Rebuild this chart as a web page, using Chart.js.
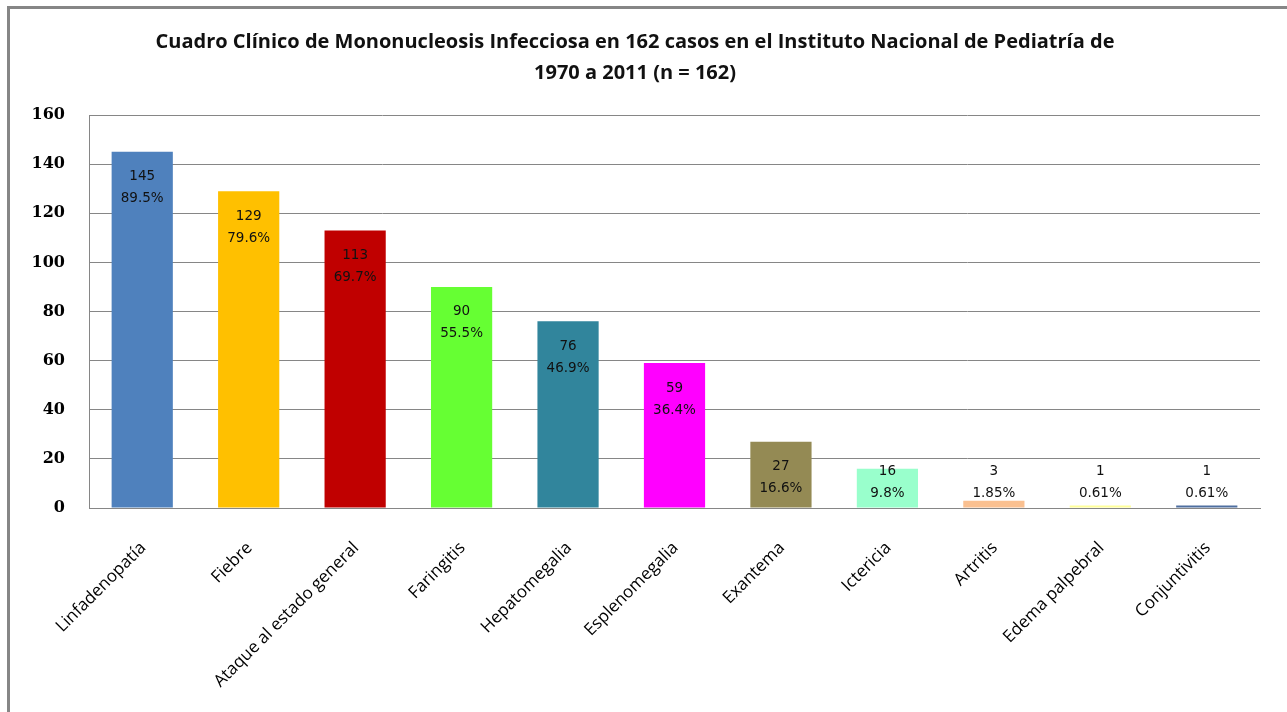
<!DOCTYPE html>
<html>
<head>
<meta charset="utf-8">
<script src="https://cdn.jsdelivr.net/npm/chart.js@4"></script>
<style>
html,body{margin:0;padding:0;background:#fff;}
#wrap{position:relative;width:1287px;height:712px;}
</style>
</head>
<body>
<div id="wrap"><canvas id="c" width="1287" height="712"></canvas></div>
<script>
const categories = ["Linfadenopatía","Fiebre","Ataque al estado general","Faringitis","Hepatomegalia","Esplenomegalia","Exantema","Ictericia","Artritis","Edema palpebral","Conjuntivitis"];
const casos = [145,129,113,90,76,59,27,16,3,1,1];
const porcentajes = ["89.5%","79.6%","69.7%","55.5%","46.9%","36.4%","16.6%","9.8%","1.85%","0.61%","0.61%"];
const barColors = ["#4F81BD","#FFC000","#C00000","#66FF33","#31859C","#FF00FF","#948A54","#99FFCC","#FAC090","#FFFF99","#4F6FA0"];
const yTicks = [0,20,40,60,80,100,120,140,160];
const titleLines = ["Cuadro Clínico de Mononucleosis Infecciosa en 162 casos en el Instituto Nacional de Pediatría de","1970 a 2011 (n = 162)"];

const frame = {
  id:'frame',
  beforeDraw(chart){
    const ctx = chart.ctx;
    ctx.save();
    ctx.fillStyle = '#fff';
    ctx.fillRect(0,0,chart.width,chart.height);
    ctx.fillStyle = '#868686';
    ctx.fillRect(7,6,chart.width-7,3);
    ctx.fillRect(7,6,3,chart.height-6);
    ctx.restore();
  }
};

const valueLabels = {
  id:'valueLabels',
  afterDatasetsDraw(chart){
    const ctx = chart.ctx;
    const meta = chart.getDatasetMeta(0);
    const zeroY = chart.scales.y.getPixelForValue(0);
    ctx.save();
    ctx.font = '13.5px "DejaVu Sans"';
    ctx.fillStyle = '#111';
    ctx.textAlign = 'center';
    ctx.textBaseline = 'middle';
    meta.data.forEach((bar,i)=>{
      const y1 = Math.min(bar.y + 25, zeroY - 37);
      ctx.fillText(String(casos[i]), bar.x, y1);
      ctx.fillText(porcentajes[i], bar.x, y1 + 22);
    });
    ctx.restore();
  }
};

new Chart(document.getElementById('c'), {
  type:'bar',
  data:{
    labels:categories,
    datasets:[{
      data:casos,
      backgroundColor:barColors,
      borderWidth:0,
      barPercentage:0.575,
      categoryPercentage:1
    }]
  },
  options:{
    responsive:false,
    animation:false,
    devicePixelRatio:1,
    layout:{padding:{left:10,right:27,top:10,bottom:0}},
    plugins:{
      legend:{display:false},
      tooltip:{enabled:false},
      title:{
        display:true,
        text:titleLines,
        color:'#111',
        font:{family:'"Open Sans"',size:20,weight:'bold',lineHeight:1.55},
        padding:{top:17,bottom:26}
      }
    },
    scales:{
      x:{
        grid:{display:false},
        border:{display:true,color:'#868686',width:1},
        ticks:{
          color:'#000',
          font:{family:'"Open Sans"',size:17},
          minRotation:45,maxRotation:45,
          autoSkip:false,
          labelOffset:1,
          padding:22
        },
        afterFit(s){ s.height = 204; }
      },
      y:{
        min:0,max:160,
        afterBuildTicks(s){ s.ticks = yTicks.map(v=>({value:v})); },
        grid:{color:'#868686',lineWidth:1,drawTicks:false},
        border:{display:true,color:'#868686',width:1},
        ticks:{
          color:'#000',
          font:{family:'"DejaVu Serif"',size:16,weight:'bold'},
          padding:24
        },
        afterFit(s){ s.width = 79; }
      }
    }
  },
  plugins:[frame,valueLabels]
});
</script>
</body>
</html>
